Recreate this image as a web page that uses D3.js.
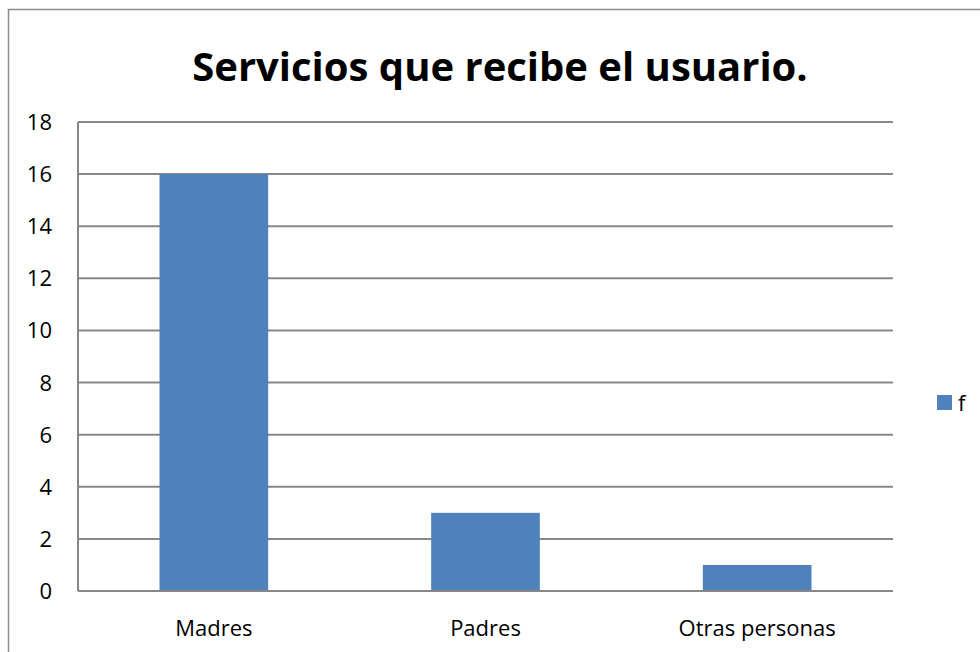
<!DOCTYPE html>
<html>
<head>
<meta charset="utf-8">
<script src="https://cdn.jsdelivr.net/npm/d3@7"></script>
<style>
  body { margin: 0; background: #fff; }
  text { font-family: "Open Sans", "Liberation Sans", sans-serif; fill: #000; }
</style>
</head>
<body>
<svg class="chart" width="980" height="652"></svg>
<script>
"use strict";

const categories = ["Madres", "Padres", "Otras personas"];
const values = [16, 3, 1];
const yTicks = [0, 2, 4, 6, 8, 10, 12, 14, 16, 18];
const seriesName = "f";
const titleText = "Servicios que recibe el usuario.";

const svg = d3.select(".chart");
const width = +svg.attr("width");
const height = +svg.attr("height");
const plot = { left: 78, right: 893, top: 122, bottom: 591 };

// marco exterior
svg.append("rect")
  .attr("x", 8.5).attr("y", 9.5)
  .attr("width", width + 10).attr("height", height + 10)
  .attr("fill", "none").attr("stroke", "#8c8c8c").attr("stroke-width", 1.5);

svg.append("text")
  .attr("x", 500).attr("y", 81)
  .attr("text-anchor", "middle")
  .attr("font-size", 40).attr("font-weight", "bold")
  .text(titleText);

const x = d3.scaleBand()
  .domain(categories)
  .range([plot.left, plot.right])
  .paddingInner(0.6)
  .paddingOuter(0.3);

const y = d3.scaleLinear()
  .domain([0, 18])
  .range([plot.bottom, plot.top]);

// líneas de cuadrícula
svg.append("g")
  .selectAll("line")
  .data(yTicks)
  .enter()
  .append("line")
  .attr("x1", plot.left).attr("x2", plot.right)
  .attr("y1", (d) => y(d)).attr("y2", (d) => y(d))
  .attr("stroke", "#878787").attr("stroke-width", 2);

// eje y
svg.append("line")
  .attr("x1", plot.left).attr("x2", plot.left)
  .attr("y1", plot.top).attr("y2", plot.bottom)
  .attr("stroke", "#878787").attr("stroke-width", 2);

svg.append("g")
  .selectAll("text")
  .data(yTicks)
  .enter()
  .append("text")
  .attr("x", 52).attr("y", (d) => y(d) + 8)
  .attr("text-anchor", "end")
  .attr("font-size", 22)
  .text((d) => d);

// barras
svg.append("g")
  .selectAll("rect")
  .data(values)
  .enter()
  .append("rect")
  .attr("x", (d, i) => x(categories[i]))
  .attr("y", (d) => y(d))
  .attr("width", x.bandwidth())
  .attr("height", (d) => y(0) - y(d))
  .attr("fill", "#4f81bd");

// redibujar línea base sobre las barras
svg.append("line")
  .attr("x1", plot.left).attr("x2", plot.right)
  .attr("y1", y(0)).attr("y2", y(0))
  .attr("stroke", "#878787").attr("stroke-width", 2);

svg.append("g")
  .selectAll("text")
  .data(categories)
  .enter()
  .append("text")
  .attr("x", (d) => x(d) + x.bandwidth() / 2)
  .attr("y", 636)
  .attr("text-anchor", "middle")
  .attr("font-size", 22)
  .text((d) => d);

// leyenda
svg.append("rect")
  .attr("x", 937).attr("y", 395)
  .attr("width", 15).attr("height", 15)
  .attr("fill", "#4f81bd");
svg.append("text")
  .attr("x", 958).attr("y", 411)
  .attr("font-size", 22)
  .text(seriesName);
</script>
</body>
</html>
